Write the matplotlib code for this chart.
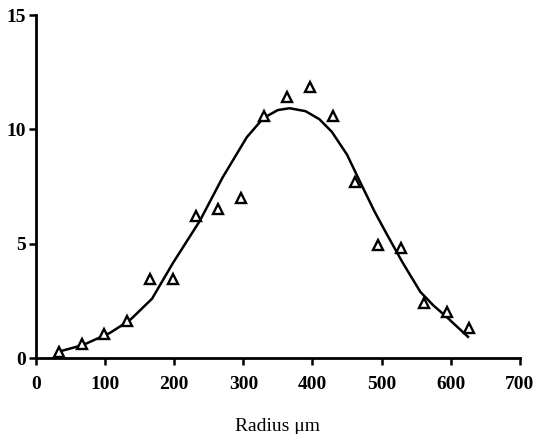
import numpy as np
import matplotlib.pyplot as plt

# measured points
radius = [33, 66, 99, 132, 165, 198, 231, 264, 297, 330, 363, 396, 429, 462, 495, 528, 561, 594, 627]
counts = [0.26, 0.6, 1.05, 1.6, 3.45, 3.45, 6.2, 6.5, 7.0, 10.6, 11.4, 11.85, 10.6, 7.7, 4.95, 4.8, 2.4, 2.0, 1.3]

# fitted curve
fit_x = [33, 68, 107, 136, 168, 198, 237, 270, 305, 329, 350, 367, 390, 410, 428, 450, 469, 490, 507, 530, 546, 556, 575, 594, 610, 625]
fit_y = [0.28, 0.57, 1.1, 1.66, 2.6, 4.15, 6.0, 7.9, 9.66, 10.5, 10.85, 10.93, 10.8, 10.45, 9.9, 8.9, 7.7, 6.4, 5.45, 4.2, 3.4, 2.9, 2.3, 1.8, 1.35, 0.93]

plt.rcParams['font.family'] = ['Liberation Serif', 'DejaVu Serif']
fig = plt.figure(figsize=(5.37, 4.34), dpi=100)
ax = fig.add_axes([0.067, 0.175, 0.901, 0.79])

ax.plot(fit_x, fit_y, color='black', lw=1.8)
ax.plot(radius, counts, linestyle='none', marker='^', markersize=7,
        markerfacecolor='white', markeredgecolor='black', markeredgewidth=1.7)

ax.set_xlim(0, 700)
ax.set_ylim(0, 15)
ax.set_xticks(range(0, 701, 100))
ax.set_yticks([0, 5, 10, 15])
for s in ['top', 'right']:
    ax.spines[s].set_visible(False)
for s in ['left', 'bottom']:
    ax.spines[s].set_linewidth(2)
ax.tick_params(width=1.8, length=5, labelsize=14)
ax.tick_params(axis='x', pad=8)
ax.tick_params(axis='y', pad=2)
for lab in ax.get_xticklabels() + ax.get_yticklabels():
    lab.set_fontweight('bold')
ax.set_xlabel('Radius μm', fontsize=14, labelpad=18)

fig.savefig('out.png', dpi=100)
